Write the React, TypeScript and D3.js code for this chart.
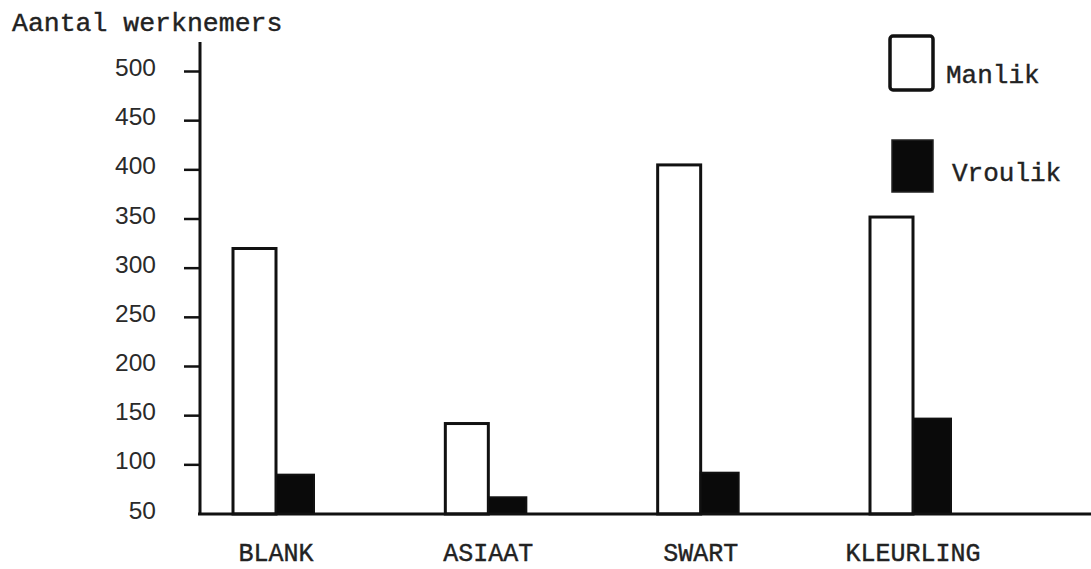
import React from "react";
import * as d3 from "d3";

const categories = ["BLANK", "ASIAAT", "SWART", "KLEURLING"];
const manlik = [320, 142, 405, 352];
const vroulik = [90, 67, 92, 147];
const yTicks = [50, 100, 150, 200, 250, 300, 350, 400, 450, 500];
const seriesNames = ["Manlik", "Vroulik"];
const yTitle = "Aantal werknemers";

const W = 1091;
const H = 569;
const mono = "'Liberation Mono', 'Courier New', monospace";
const sans = "'Liberation Sans', Arial, sans-serif";

export default function App() {
  const y = d3.scaleLinear().domain([50, 500]).range([514, 71.5]);
  const x = d3.scalePoint<string>().domain(categories).range([276, 913]);
  const axisX = 200;
  const base = y(50);
  const mW = 43;
  const fW = 38;
  const monoStyle = { stroke: "#222", strokeWidth: 0.4 };

  return (
    <svg
      width={W}
      height={H}
      style={{ position: "absolute", left: 0, top: 0, background: "#fff" }}
    >
      <rect x={0} y={0} width={W} height={H} fill="#fff" />
      <text x={12} y={24} fontFamily={mono} fontSize={26.5} fill="#222" dominantBaseline="central" {...monoStyle}>
        {yTitle}
      </text>
      {/* y axis */}
      <line x1={axisX} x2={axisX} y1={42} y2={base + 1} stroke="#111" strokeWidth={3} />
      {yTicks.map((t) => (
        <g key={t}>
          {t !== 50 && (
            <line x1={184} x2={axisX} y1={y(t)} y2={y(t)} stroke="#111" strokeWidth={2.5} />
          )}
          <text
            x={156}
            y={y(t) - 4}
            textAnchor="end"
            dominantBaseline="central"
            fontFamily={sans}
            fontSize={24.5}
            fill="#2a2a2a"
          >
            {t}
          </text>
        </g>
      ))}
      {/* bars */}
      {categories.map((c, i) => {
        const cx = x(c) as number;
        return (
          <g key={c}>
            <rect
              x={cx - mW}
              y={y(manlik[i])}
              width={mW}
              height={base - y(manlik[i])}
              fill="#fff"
              stroke="#111"
              strokeWidth={3}
            />
            <rect
              x={cx}
              y={y(vroulik[i])}
              width={fW}
              height={base - y(vroulik[i])}
              fill="#0a0a0a"
              stroke="#111"
              strokeWidth={2}
            />
            <text
              x={cx}
              y={554}
              textAnchor="middle"
              fontFamily={mono}
              fontSize={25}
              fill="#222"
              dominantBaseline="central"
              {...monoStyle}
            >
              {c}
            </text>
          </g>
        );
      })}
      {/* x baseline */}
      <line x1={axisX - 2} x2={W} y1={base} y2={base} stroke="#111" strokeWidth={3} />
      {/* legend */}
      <rect x={890} y={36} width={43} height={54} rx={3} fill="#fff" stroke="#111" strokeWidth={3.5} />
      <text x={946} y={76} fontFamily={mono} fontSize={26} fill="#222" dominantBaseline="central" {...monoStyle}>
        {seriesNames[0]}
      </text>
      <rect x={892} y={140} width={41} height={52} fill="#0a0a0a" stroke="#222" strokeWidth={1.5} />
      <text x={952} y={174} fontFamily={mono} fontSize={26} fill="#222" dominantBaseline="central" {...monoStyle}>
        {seriesNames[1]}
      </text>
    </svg>
  );
}
